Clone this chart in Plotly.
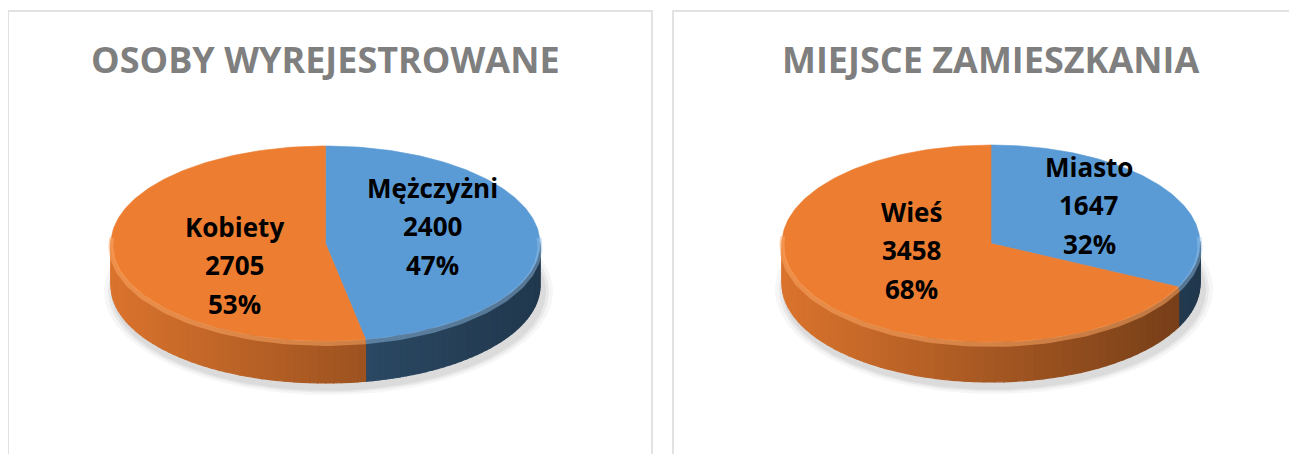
import numpy as np
import plotly.graph_objects as go

# ---------------- data ----------------
titles = ["OSOBY WYREJESTROWANE", "MIEJSCE ZAMIESZKANIA"]
labels_left = ["Mężczyżni", "Kobiety"]
values_left = [2400, 2705]
labels_right = ["Miasto", "Wieś"]
values_right = [1647, 3458]

# ---------------- layout constants (pixel space) ----------------
W, H = 1297, 454
OFF = 8  # page body margin of the browser
pies = [
    dict(cx=325.5, cy=243.5, a=214.5, b=97.5, depth=42, labels=labels_left, values=values_left,
         title=titles[0], label_pos=[(432, 226), (234, 265)]),
    dict(cx=991.0, cy=243.5, a=209.0, b=98.5, depth=40, labels=labels_right, values=values_right,
         title=titles[1], label_pos=[(1089, 205), (911, 250)]),
]
top_colors = [(91, 155, 213), (237, 125, 49)]          # blue, orange
side_shade = [(0.62, 0.36), (0.92, 0.48)]               # (left factor, right factor)
rim_colors = ["rgba(150,195,235,0.45)", "rgba(250,165,100,0.55)"]


def rgb(c, f=1.0):
    return "rgb(%d,%d,%d)" % tuple(max(0, min(255, int(round(v * f)))) for v in c)


fig = go.Figure()


def poly(xs, ys, color, lw=0.8):
    fig.add_trace(go.Scatter(x=list(xs), y=list(ys), mode="lines", fill="toself",
                             fillcolor=color, line=dict(color=color, width=lw),
                             hoverinfo="skip", showlegend=False))


for p in pies:
    cx, cy, a, b, d = p["cx"], p["cy"], p["a"], p["b"], p["depth"]
    vals = np.array(p["values"], dtype=float)
    frac = vals / vals.sum()

    # soft shadow
    tt = np.linspace(0, 2 * np.pi, 200)
    for k, alpha in [(10, 0.035), (6, 0.05), (3, 0.06)]:
        poly(cx + 3 + (a + k) * np.cos(tt), cy + d + 6 + (b + k * 0.6) * np.sin(tt),
             "rgba(0,0,0,%.3f)" % alpha, lw=0)

    # slice angles: start at 12 o'clock, clockwise (math angle decreasing)
    bounds = np.pi / 2 - 2 * np.pi * np.concatenate([[0], np.cumsum(frac)])

    # sides (front half only: sin(t) < 0)
    for i in range(len(vals)):
        t0, t1 = bounds[i], bounds[i + 1]
        ts = np.linspace(t0, t1, 90)
        for j in range(len(ts) - 1):
            s0, s1 = ts[j], ts[j + 1]
            tm = 0.5 * (s0 + s1)
            if np.sin(tm) > 0.02:
                continue
            u = (np.cos(tm) + 1) / 2
            fl, fr = side_shade[i]
            f = fl + (fr - fl) * u
            xa, xb = cx + a * np.cos(s0), cx + a * np.cos(s1)
            ya, yb = cy - b * np.sin(s0), cy - b * np.sin(s1)
            poly([xa, xb, xb, xa, xa], [ya, yb, yb + d, ya + d, ya], rgb(top_colors[i], f), lw=1.2)

    # top faces
    for i in range(len(vals)):
        ts = np.linspace(bounds[i], bounds[i + 1], 160)
        xs = np.concatenate([[cx], cx + a * np.cos(ts), [cx]])
        ys = np.concatenate([[cy], cy - b * np.sin(ts), [cy]])
        poly(xs, ys, rgb(top_colors[i]), lw=0.6)

    # soft bevel highlight along the front rim
    for i in range(len(vals)):
        ts = np.linspace(bounds[i], bounds[i + 1], 160)
        ts = ts[np.sin(ts) < 0.1]
        if len(ts) < 2:
            continue
        fig.add_trace(go.Scatter(x=cx + a * np.cos(ts), y=cy - b * np.sin(ts) + 2.5,
                                 mode="lines", line=dict(color=rim_colors[i], width=5),
                                 hoverinfo="skip", showlegend=False))

    # labels
    for i, (lab, v) in enumerate(zip(p["labels"], p["values"])):
        lx, ly = p["label_pos"][i]
        pct = "%d%%" % round(100 * v / vals.sum())
        for k, line in enumerate([lab, str(v), pct]):
            fig.add_annotation(x=lx, y=ly + (k - 1) * 38.5, xref="x", yref="y",
                               text="<b>%s</b>" % line, showarrow=False,
                               font=dict(family="Open Sans", size=26, color="#000000"))

    # title
    fig.add_annotation(x=cx, y=59, xref="x", yref="y", text="<b>%s</b>" % p["title"],
                       showarrow=False, font=dict(family="Open Sans", size=36, color="#7f7f7f"))

# panel borders
fig.add_shape(type="rect", xref="x", yref="y", x0=8, x1=652, y0=11, y1=480,
              line=dict(color="#d9d9d9", width=1.5), fillcolor="rgba(0,0,0,0)", layer="below")
fig.add_shape(type="rect", xref="x", yref="y", x0=673, x1=1330, y0=11, y1=480,
              line=dict(color="#d9d9d9", width=1.5), fillcolor="rgba(0,0,0,0)", layer="below")

fig.update_layout(
    width=W, height=H, margin=dict(l=0, r=0, t=0, b=0),
    paper_bgcolor="white", plot_bgcolor="white", showlegend=False,
    xaxis=dict(range=[OFF, W + OFF], visible=False, fixedrange=True),
    yaxis=dict(range=[H + OFF, OFF], visible=False, fixedrange=True),
)
fig.write_html("out.html")
